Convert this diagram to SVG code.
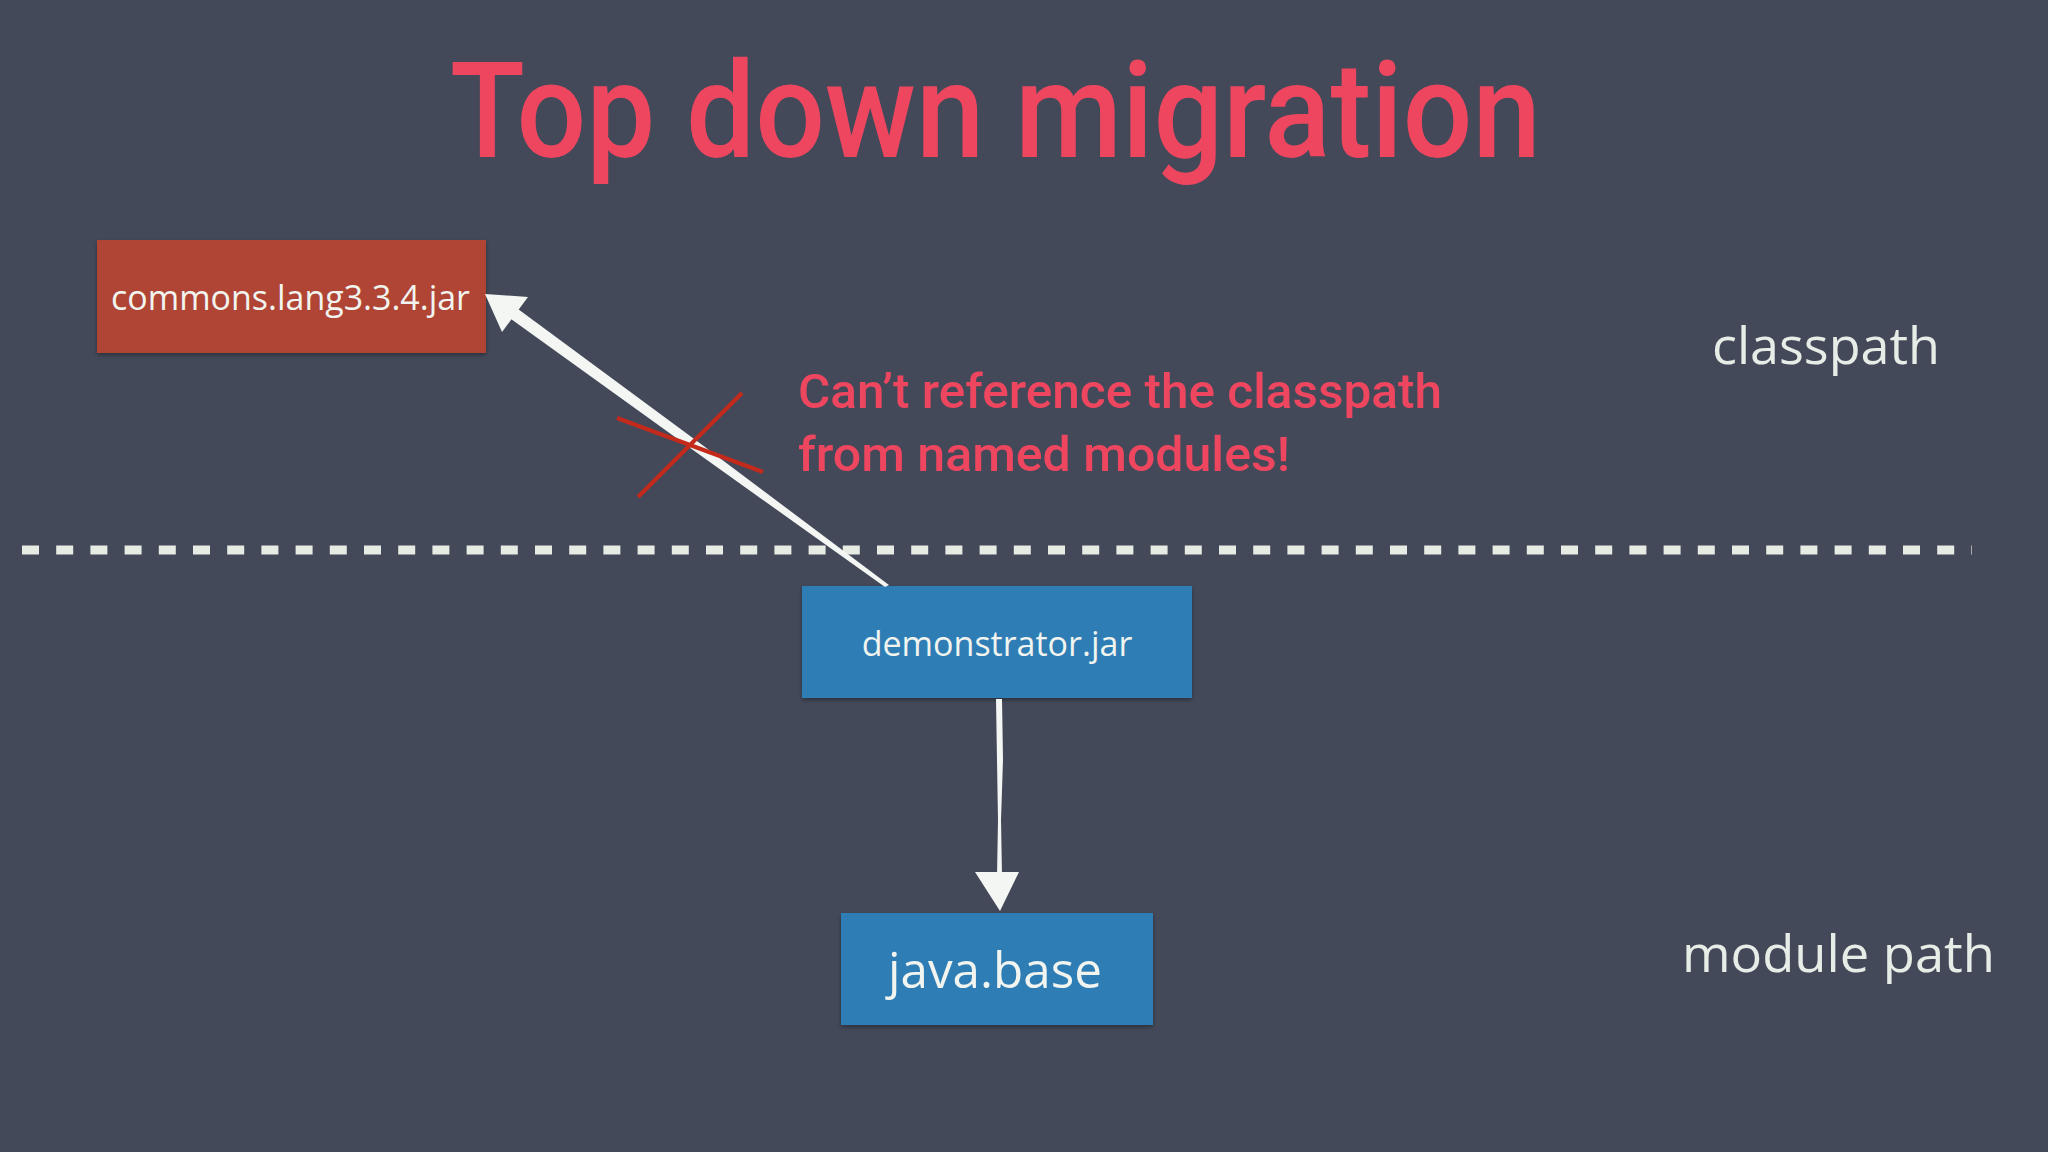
<svg xmlns="http://www.w3.org/2000/svg" width="2048" height="1152" viewBox="0 0 2048 1152">
  <defs>
    <style>
      .label { font-family: "Open Sans", "Noto Sans", sans-serif; fill: #f1f4ef; }
      .side { font-family: "Open Sans", "Noto Sans", sans-serif; fill: #e6ece6; font-size: 52px; }
      .din { font-family: Roboto, "DejaVu Sans Condensed", "Liberation Sans", sans-serif; fill: #ef4660; font-weight: 500; }
      .chalk { fill: #f4f6f4; }
      .cross { stroke: #c32a1c; stroke-width: 4; stroke-linecap: butt; }
    </style>
    <filter id="shadow" x="-5%" y="-10%" width="110%" height="125%">
      <feDropShadow dx="0" dy="2" stdDeviation="2" flood-color="#000" flood-opacity="0.35"/>
    </filter>
  </defs>

  <rect x="0" y="0" width="2048" height="1152" fill="#434959"/>

  <g id="title">
    <text class="din" x="450" y="157" font-size="134" textLength="1091" lengthAdjust="spacingAndGlyphs">Top down migration</text>
  </g>

  <g id="divider">
    <line x1="22" y1="550" x2="1972" y2="550" stroke="#e6ece4" stroke-width="9" stroke-dasharray="17 17.2"/>
  </g>

  <g id="region-classpath">
    <text class="side" x="1712" y="364" textLength="228" lengthAdjust="spacingAndGlyphs">classpath</text>
  </g>
  <g id="region-module-path">
    <text class="side" x="1682" y="972" textLength="313" lengthAdjust="spacingAndGlyphs">module path</text>
  </g>

  <g id="node-commons">
    <rect x="97" y="240" width="389" height="113" fill="#b04535" filter="url(#shadow)"/>
    <text class="label" x="111" y="310" font-size="34" textLength="359" lengthAdjust="spacingAndGlyphs">commons.lang3.3.4.jar</text>
  </g>

  <g id="node-demonstrator">
    <rect x="802" y="586" width="390" height="112" fill="#2e7db5" filter="url(#shadow)"/>
    <text class="label" x="997" y="656" font-size="34" text-anchor="middle">demonstrator.jar</text>
  </g>

  <g id="node-java-base">
    <rect x="841" y="913" width="312" height="112" fill="#2e7db5" filter="url(#shadow)"/>
    <text class="label" x="888" y="988" font-size="49" textLength="214" lengthAdjust="spacingAndGlyphs">java.base</text>
  </g>

  <g id="note">
    <text class="din" x="798" y="408" font-size="49" textLength="644" lengthAdjust="spacingAndGlyphs">Can’t reference the classpath</text>
    <text class="din" x="798" y="471" font-size="49" textLength="492" lengthAdjust="spacingAndGlyphs">from named modules!</text>
  </g>

  <g id="connectors">
    <g id="edge-demonstrator-commons">
      <polygon class="chalk" points="889,585 885,587 700,455 511,319 518,309 705,447"/>
      <polygon class="chalk" points="485,294 528,297 502,332"/>
    </g>
    <g id="edge-demonstrator-javabase">
      <polygon class="chalk" points="996,699 1002,699 1003,760 1001,820 1002,876 997,876 998,820 997,760"/>
      <polygon class="chalk" points="975,872 1019,872 1000,911"/>
    </g>
    <g id="blocked-mark">
      <line class="cross" x1="617" y1="418" x2="763" y2="472"/>
      <line class="cross" x1="742" y1="393" x2="638" y2="497"/>
    </g>
  </g>
</svg>
